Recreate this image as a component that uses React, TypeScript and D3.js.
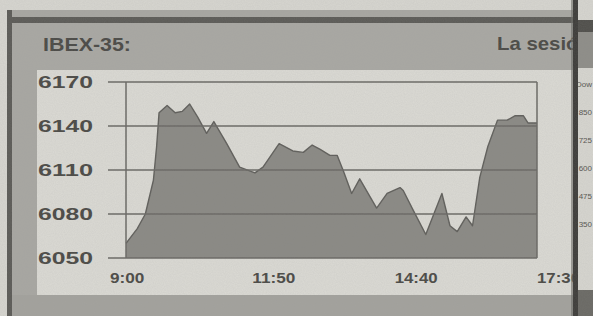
import React from "react";
import * as d3 from "d3";

const times = [
  "9:00", "9:14", "9:24", "9:34", "9:38", "9:41", "9:51", "10:01", "10:10", "10:19",
  "10:29", "10:40", "10:49", "11:05", "11:21", "11:40", "11:50", "12:10", "12:27", "12:40",
  "12:51", "13:01", "13:13", "13:22", "13:30", "13:40", "13:50", "14:11", "14:24", "14:40",
  "14:44", "14:56", "15:12", "15:32", "15:42", "15:51", "16:02", "16:10", "16:19", "16:29",
  "16:41", "16:53", "17:03", "17:13", "17:19", "17:30",
];
const values = [
  6060, 6070, 6080, 6103, 6126, 6149, 6154, 6149, 6150, 6155,
  6146, 6135, 6143, 6128, 6112, 6108, 6112, 6128, 6123, 6122,
  6127, 6124, 6120, 6120, 6109, 6094, 6104, 6084, 6094, 6098,
  6096, 6083, 6066, 6094, 6072, 6068, 6078, 6072, 6105, 6126,
  6144, 6144, 6147, 6147, 6142, 6142,
];
const yTicks = [6050, 6080, 6110, 6140, 6170];
const xTickLabels = ["9:00", "11:50", "14:40", "17:30"];
const title = "IBEX-35:";
const subtitle = "La sesión";
const sideLabels = ["Dow", "850", "725", "600", "475", "350"];

const toMin = (t: string) => {
  const [h, m] = t.split(":").map(Number);
  return h * 60 + m;
};

const FONT = "'Liberation Sans', Arial, Helvetica, sans-serif";

export default function App() {
  const W = 593;
  const H = 316;
  const x = d3.scaleLinear().domain([toMin("9:00"), toMin("17:30")]).range([126, 537]);
  const y = d3.scaleLinear().domain([6050, 6170]).range([258, 82]);
  const labelX = d3.scalePoint<string>().domain(xTickLabels).range([110, 537]);
  const sideY = d3.scalePoint<string>().domain(sideLabels).range([83, 223]);
  const data = times.map((t, i) => ({ m: toMin(t), v: values[i] }));
  const area = d3
    .area<{ m: number; v: number }>()
    .x((d) => x(d.m))
    .y0(y(6050))
    .y1((d) => y(d.v));
  const line = d3
    .line<{ m: number; v: number }>()
    .x((d) => x(d.m))
    .y((d) => y(d.v));

  const textCol = "#4a4945";

  return (
    <svg
      width={W}
      height={H}
      style={{ position: "fixed", left: 0, top: 0, display: "block" }}
      fontFamily={FONT}
    >
      <defs>
        <clipPath id="mainClip">
          <rect x={0} y={0} width={575} height={H} />
        </clipPath>
        <filter id="grain" x="0" y="0" width="100%" height="100%">
          <feTurbulence type="fractalNoise" baseFrequency="0.9" numOctaves={2} seed={3} />
          <feColorMatrix type="matrix" values="0 0 0 0 0.3  0 0 0 0 0.3  0 0 0 0 0.3  0 0 0 0.15 0" />
        </filter>
      </defs>
      <rect x={0} y={0} width={W} height={H} fill="#d7d6d0" />
      <g clipPath="url(#mainClip)">
        <rect x={7} y={10} width={W} height={H} fill="#a8a7a2" />
        <rect x={7} y={10} width={5} height={H} fill="#5b5a56" />
        <rect x={12} y={17} width={W} height={6} fill="#5b5a56" />
        <rect x={12} y={23} width={W} height={47} fill="#a9a8a3" />
        <rect x={37} y={70} width={W} height={225} fill="#dbdad4" />
        <rect x={12} y={295} width={W} height={21} fill="#a3a29d" />

        <text x={43} y={51} fontSize={19} fontWeight="bold" fill={textCol} textLength={88} lengthAdjust="spacingAndGlyphs">
          {title}
        </text>
        <text x={497} y={50} fontSize={19} fontWeight="bold" fill={textCol} textLength={94} lengthAdjust="spacingAndGlyphs">
          {subtitle}
        </text>

        <path d={area(data) ?? ""} fill="#8a8984" />
        <path d={line(data) ?? ""} fill="none" stroke="#5f5e5a" strokeWidth={1.4} strokeLinejoin="round" />

        {yTicks.map((t) => (
          <line key={t} x1={108} x2={537} y1={y(t)} y2={y(t)} stroke="#6a6965" strokeWidth={1.5} />
        ))}
        <line x1={126} x2={126} y1={y(6170)} y2={y(6050)} stroke="#6a6965" strokeWidth={1.5} />
        <line x1={537} x2={537} y1={y(6170)} y2={y(6050)} stroke="#6a6965" strokeWidth={1.5} />

        {yTicks.map((t) => (
          <text
            key={t}
            x={93}
            y={y(t) + 6}
            textAnchor="end"
            fontSize={16}
            fontWeight="bold"
            fill={textCol}
            textLength={55}
            lengthAdjust="spacingAndGlyphs"
          >
            {t}
          </text>
        ))}
        {xTickLabels.map((l) => (
          <text
            key={l}
            x={labelX(l)}
            y={283}
            fontSize={15}
            fontWeight="bold"
            fill={textCol}
            textLength={l.length * 8.6}
            lengthAdjust="spacingAndGlyphs"
          >
            {l}
          </text>
        ))}
      </g>

      <rect x={578} y={20} width={15} height={12} fill="#4f4e4a" />
      <rect x={578} y={32} width={15} height={36} fill="#8e8d88" />
      <rect x={578} y={290} width={15} height={26} fill="#6a6964" />
      {sideLabels.map((s) => (
        <text
          key={s}
          x={592}
          y={(sideY(s) ?? 0) + 4}
          fontSize={8}
          textAnchor="end"
          fill="#55544f"
        >
          {s}
        </text>
      ))}
      <rect x={573} y={0} width={5} height={H} fill="#3d3c39" />
      <rect x={571} y={0} width={2} height={H} fill="#6d6c68" opacity={0.6} />

      <rect x={0} y={0} width={W} height={H} filter="url(#grain)" />
    </svg>
  );
}
